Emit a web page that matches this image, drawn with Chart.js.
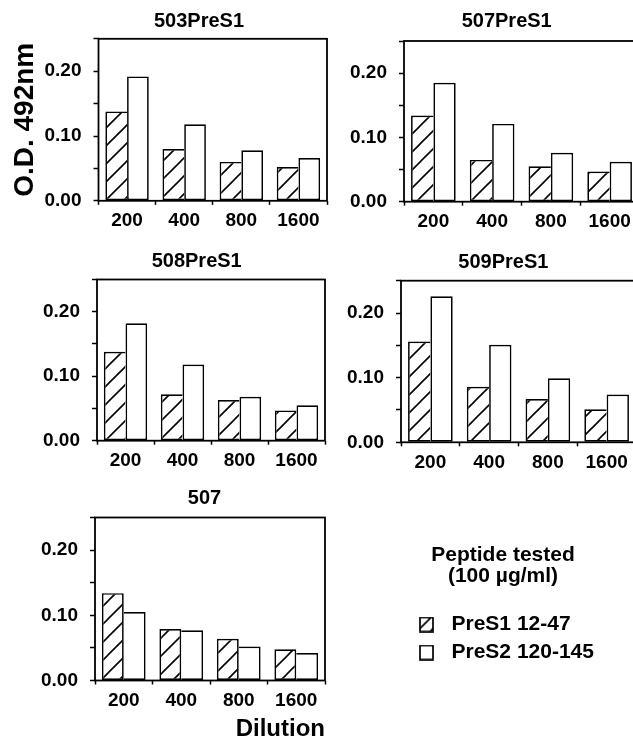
<!DOCTYPE html>
<html>
<head>
<meta charset="utf-8">
<title>O.D. 492nm by dilution</title>
<script src="https://cdn.jsdelivr.net/npm/chart.js@4.4.1/dist/chart.umd.min.js"></script>
<style>
  html, body { margin: 0; padding: 0; background: #fff; }
  #page { position: relative; width: 633px; height: 746px; overflow: hidden; background: #fff; }
  #page canvas { position: absolute; }
</style>
</head>
<body>
<div id="page"></div>
<script>
// x categories (serum dilution) and the labelled y ticks
const dilutions = ['200', '400', '800', '1600'];
const yTickLabels = [0.00, 0.10, 0.20];
const panelNames = ['503PreS1', '507PreS1', '508PreS1', '509PreS1', '507'];
const seriesNames = ['PreS1 12-47', 'PreS2 120-145'];

// O.D. 492nm (hatched = PreS1 12-47, open = PreS2 120-145)
const preS1_503PreS1 = [0.138, 0.080, 0.060, 0.052];
const preS2_503PreS1 = [0.192, 0.118, 0.078, 0.066];
const preS1_507PreS1 = [0.134, 0.065, 0.055, 0.047];
const preS2_507PreS1 = [0.185, 0.121, 0.076, 0.062];
const preS1_508PreS1 = [0.138, 0.072, 0.063, 0.047];
const preS2_508PreS1 = [0.182, 0.118, 0.068, 0.055];
const preS1_509PreS1 = [0.156, 0.086, 0.067, 0.051];
const preS2_509PreS1 = [0.226, 0.151, 0.099, 0.074];
const preS1_507 = [0.134, 0.079, 0.064, 0.048];
const preS2_507 = [0.105, 0.077, 0.052, 0.042];

const panelSeries = [
  [preS1_503PreS1, preS2_503PreS1],
  [preS1_507PreS1, preS2_507PreS1],
  [preS1_508PreS1, preS2_508PreS1],
  [preS1_509PreS1, preS2_509PreS1],
  [preS1_507, preS2_507]
];

// page geometry: canvas [left, top, w, h], plot box [l, t, r, b], title centre [x, y]
const layout = [
  { canvas: [0, 0, 360, 235],   box: [98.5, 38.8, 327, 200.8], title: [199, 21.7] },
  { canvas: [330, 0, 350, 235], box: [404, 41, 639, 201.7],    title: [506.7, 21.7] },
  { canvas: [0, 240, 360, 235], box: [97, 279.5, 325, 440.7],  title: [196.7, 261.7] },
  { canvas: [330, 240, 350, 235], box: [401, 280.7, 636, 442.3], title: [503.3, 262] },
  { canvas: [0, 475, 360, 271], box: [95, 517.5, 325, 680.5],  title: [204.5, 498.3] }
];
// legend canvas runs past the page bottom: top boxes may only take half the height
const legendRect = [412, 540, 221, 320];

Chart.defaults.font.family = '"Liberation Sans", Arial, Helvetica, sans-serif';
Chart.defaults.color = '#000';
Chart.defaults.animation = false;

// "/" hatching tile
function hatchTile(gap, lw) {
  const c = document.createElement('canvas');
  c.width = c.height = gap;
  const g = c.getContext('2d');
  g.fillStyle = '#fff';
  g.fillRect(0, 0, gap, gap);
  g.strokeStyle = '#000';
  g.lineWidth = lw;
  g.beginPath();
  for (const k of [0, gap, 2 * gap]) {
    g.moveTo(k - gap - 2, gap + 2);
    g.lineTo(k + 2, -2);
  }
  g.stroke();
  return c;
}
const barHatch = hatchTile(18, 1.6).getContext('2d').createPattern(hatchTile(18, 1.6), 'repeat');

function makeCanvas(rect) {
  const c = document.createElement('canvas');
  c.width = rect[2];
  c.height = rect[3];
  c.style.left = rect[0] + 'px';
  c.style.top = rect[1] + 'px';
  document.getElementById('page').appendChild(c);
  return c;
}

// box around the plot area + panel heading
const panelFrame = {
  id: 'panelFrame',
  afterDatasetsDraw(chart, args, opts) {
    const a = chart.chartArea, ctx = chart.ctx;
    ctx.save();
    ctx.strokeStyle = '#000';
    ctx.lineWidth = 1.8;
    ctx.strokeRect(a.left, a.top, a.right - a.left, a.bottom - a.top);
    ctx.font = 'bold 20px "Liberation Sans", Arial, sans-serif';
    ctx.fillStyle = '#000';
    ctx.textAlign = 'center';
    ctx.textBaseline = 'middle';
    ctx.fillText(opts.text, opts.x, opts.y);
    ctx.restore();
  }
};

const BW = 1.7;

panelNames.forEach(function(name, p) {
  const L = layout[p];
  const cv = makeCanvas(L.canvas);
  const s1 = panelSeries[p][0];
  const s2 = panelSeries[p][1];
  const yWidth = L.box[0] - L.canvas[0];
  const xHeight = L.canvas[1] + L.canvas[3] - L.box[3];

  new Chart(cv, {
    type: 'bar',
    data: {
      labels: dilutions,
      datasets: [
        {
          label: seriesNames[0],
          data: s1,
          backgroundColor: barHatch,
          borderColor: '#000',
          borderSkipped: false,
          borderWidth: c => ({ top: BW, left: BW, bottom: BW, right: s2[c.dataIndex] >= s1[c.dataIndex] ? 0 : BW })
        },
        {
          label: seriesNames[1],
          data: s2,
          backgroundColor: '#fff',
          borderColor: '#000',
          borderSkipped: false,
          borderWidth: c => ({ top: BW, right: BW, bottom: BW, left: s1[c.dataIndex] > s2[c.dataIndex] ? 0 : BW })
        }
      ]
    },
    options: {
      responsive: false,
      categoryPercentage: 0.76,
      barPercentage: 1.0,
      layout: {
        padding: { left: 0, bottom: 0, top: L.box[1] - L.canvas[1], right: L.canvas[0] + L.canvas[2] - L.box[2] }
      },
      scales: {
        x: {
          offset: true,
          grid: { drawOnChartArea: false, offset: true, tickLength: 4, tickColor: '#000', tickWidth: 1.5 },
          border: { display: false },
          ticks: { color: '#000', font: { size: 19, weight: 'bold' }, padding: 5, maxRotation: 0, autoSkip: false },
          title: {
            display: p === 4,
            text: 'Dilution',
            align: 'end',
            color: '#000',
            font: { size: 24, weight: 'bold' },
            padding: { top: 0, bottom: 2.6 }
          },
          afterFit: s => { s.height = xHeight; }
        },
        y: {
          min: 0,
          max: 0.25,
          grid: { drawOnChartArea: false, tickLength: 5, tickColor: '#000', tickWidth: 1.5 },
          border: { display: false },
          ticks: {
            stepSize: 0.05,
            color: '#000',
            font: { size: 19, weight: 'bold' },
            padding: 12,
            callback: v => yTickLabels.some(t => Math.abs(t - v) < 1e-6) ? v.toFixed(2) : ''
          },
          title: {
            display: p === 0,
            text: 'O.D. 492nm',
            color: '#000',
            font: { size: 28, weight: 'bold' },
            padding: { top: 8, bottom: 0 }
          },
          afterFit: s => { s.width = yWidth; }
        }
      },
      plugins: {
        legend: { display: false },
        tooltip: { enabled: false },
        panelFrame: { text: name, x: L.title[0] - L.canvas[0], y: L.title[1] - L.canvas[1] }
      }
    },
    plugins: [panelFrame]
  });
});

// legend swatches: a 14x15 box at the left of a 22px wide image
function swatch(hatched) {
  const c = document.createElement('canvas');
  c.width = 22;
  c.height = 16;
  const g = c.getContext('2d');
  g.fillStyle = hatched ? g.createPattern(hatchTile(13, 1.6), 'repeat') : '#fff';
  g.fillRect(1, 1, 13, 14);
  g.strokeStyle = '#000';
  g.lineWidth = BW;
  g.strokeRect(1, 1, 13, 14);
  return c;
}
const swatches = [swatch(true), swatch(false)];

new Chart(makeCanvas(legendRect), {
  type: 'bar',
  data: {
    labels: [],
    datasets: seriesNames.map(n => ({ label: n, data: [] }))
  },
  options: {
    responsive: false,
    layout: { padding: 0 },
    scales: { x: { display: false }, y: { display: false } },
    plugins: {
      tooltip: { enabled: false },
      legend: {
        position: 'top',
        align: 'start',
        title: {
          display: true,
          text: ['Peptide tested', '(100 \u00b5g/ml)'],
          position: 'center',
          color: '#000',
          font: { size: 21, weight: 'bold', lineHeight: 1 },
          padding: { top: 5, bottom: 41 }
        },
        labels: {
          usePointStyle: true,
          pointStyleWidth: 22,
          padding: 7,
          color: '#000',
          font: { size: 21, weight: 'bold' },
          generateLabels: chart => chart.data.datasets.map((d, i) => ({
            text: d.label,
            pointStyle: swatches[i],
            datasetIndex: i,
            hidden: false,
            lineWidth: 0,
            fontColor: '#000'
          }))
        }
      }
    }
  }
});
</script>
</body>
</html>
